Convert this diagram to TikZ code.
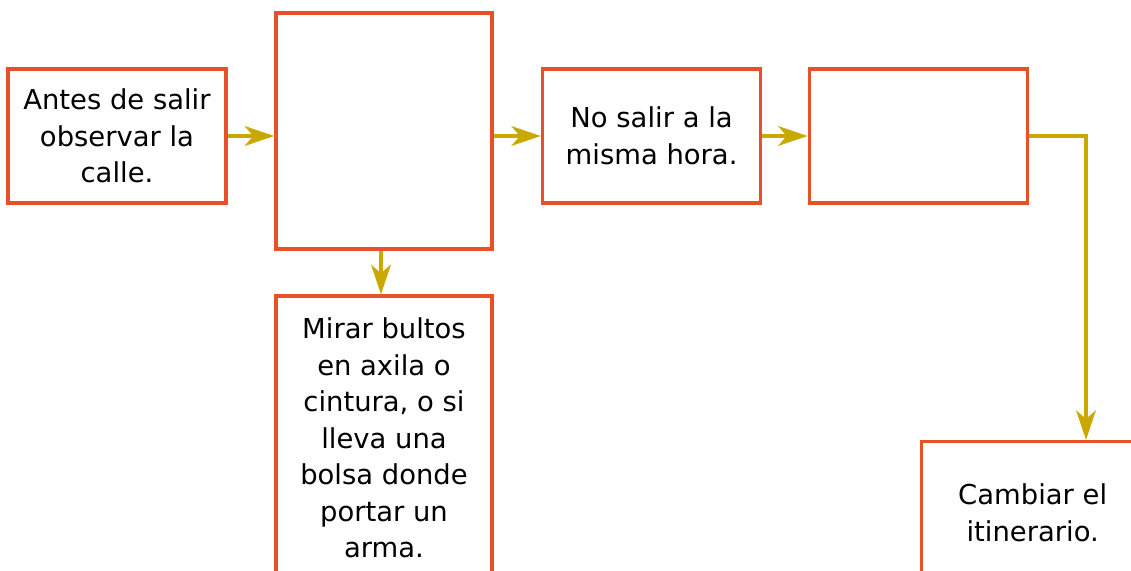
\documentclass[tikz,border=0pt]{standalone}
\usepackage{fontspec}
\setmainfont{DejaVu Sans}
\usepackage{xcolor}
\usepackage{tikz}
\usetikzlibrary{arrows.meta,positioning}
\definecolor{boxred}{RGB}{232, 80, 42}
\definecolor{flowgold}{RGB}{201, 168, 0}

\tikzset{
  stepbox/.style={draw=boxred, line width=2.4pt, rectangle, minimum width=5.45cm,
    align=center, font=\fontsize{19.5}{26}\selectfont, inner sep=0pt},
  flow/.style={draw=flowgold, line width=2.4pt,
    -{Stealth[length=21pt, width=14pt, inset=6pt]}}
}

\begin{document}
\begin{tikzpicture}
    \useasboundingbox (0,0) rectangle (28.275,-14.25);
    % Boxes
    \node[stepbox, minimum height=3.35cm] (salir) at (2.925,-3.4) {Antes de salir\\observar la\\calle.};
    \node[stepbox, minimum width=5.4cm, minimum height=5.9cm] (vacio) at (9.6,-3.275) {};
    \node[stepbox, minimum height=3.35cm] (hora) at (16.29,-3.4) {No salir a la\\misma hora.};
    \node[stepbox, minimum height=3.35cm] (otro) at (22.96,-3.4) {};
    \node[stepbox, minimum width=5.4cm, minimum height=7.1cm] (bultos) at (9.6,-10.95)
      {Mirar bultos\\en axila o\\cintura, o si\\lleva una\\bolsa donde\\portar un\\arma.};
    \node[stepbox, minimum width=5.55cm, minimum height=3.55cm, anchor=north west] (cambiar) at (23,-11)
      {Cambiar el\\itinerario.};
    \coordinate (esquina) at (27.15,-3.4);

    % Connectors
    \draw[flow] (salir) -- (vacio.west |- salir);
    \draw[flow] (vacio.east |- hora) -- (hora);
    \draw[flow] (hora) -- (otro);
    \draw[flow] (vacio.south -| 9.525,0) -- (bultos.north -| 9.525,0);
    \draw[flow] (otro.east) -- (esquina) -- (esquina |- cambiar.north);
\end{tikzpicture}
\end{document}
